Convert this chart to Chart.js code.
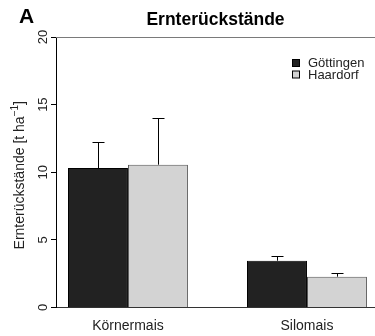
<!DOCTYPE html>
<html>
<head>
<meta charset="utf-8">
<script src="https://cdn.jsdelivr.net/npm/chart.js@4.4.1/dist/chart.umd.min.js"></script>
<style>
  body { margin: 0; background: #fff; }
  #wrap { width: 375px; height: 336px; }
</style>
</head>
<body>
<div id="wrap"><canvas id="residue-chart" width="375" height="336"></canvas></div>
<script>
// Ernterückstände [t/ha], Mittelwert + Standardabweichung
var categories = ['Körnermais', 'Silomais'];
var sites = ['Göttingen', 'Haardorf'];
var goettingen = [10.31, 3.46];
var haardorf = [10.56, 2.28];
var goettingenSd = [1.93, 0.37];
var haardorfSd = [3.48, 0.29];
var yTicks = [0, 5, 10, 15, 20];

var panelLetter = 'A';
var titleText = 'Ernterückstände';
var yTitle = 'Ernterückstände [t ha';
var yTitleSup = '\u22121';

var fontFamily = '"Liberation Sans", Arial, sans-serif';
var fills = ['#222222', '#d3d3d3'];
var borders = ['#000000', '#555555'];

function points(values) {
  return values.map(function (v, i) { return { x: i + 1, y: v }; });
}

// upward error bars like in the R plot
var errorBars = {
  id: 'errorBars',
  afterDatasetsDraw: function (chart) {
    var ctx = chart.ctx;
    var yScale = chart.scales.y;
    ctx.save();
    ctx.strokeStyle = '#000';
    ctx.lineWidth = 1;
    chart.data.datasets.forEach(function (ds, d) {
      chart.getDatasetMeta(d).data.forEach(function (bar, i) {
        var top = Math.round(yScale.getPixelForValue(ds.data[i].y + ds.sd[i])) + 0.5;
        var x = Math.round(bar.x) + 0.5;
        ctx.beginPath();
        ctx.moveTo(x, bar.y);
        ctx.lineTo(x, top);
        ctx.moveTo(x - 6, top);
        ctx.lineTo(x + 6, top);
        ctx.stroke();
      });
    });
    ctx.restore();
  }
};

// title, panel letter, rotated y labels, legend, top line
var decorations = {
  id: 'decorations',
  afterDraw: function (chart) {
    var ctx = chart.ctx;
    var area = chart.chartArea;
    var yScale = chart.scales.y;
    ctx.save();

    // top frame line
    ctx.strokeStyle = '#7a7a7a';
    ctx.lineWidth = 1;
    ctx.beginPath();
    ctx.moveTo(area.left, Math.round(area.top) + 0.5);
    ctx.lineTo(area.right, Math.round(area.top) + 0.5);
    ctx.stroke();

    ctx.fillStyle = '#000';
    ctx.font = 'bold 21px ' + fontFamily;
    ctx.textAlign = 'left';
    ctx.textBaseline = 'alphabetic';
    ctx.fillText(panelLetter, 19, 23);

    ctx.font = 'bold 17.5px ' + fontFamily;
    ctx.textAlign = 'center';
    ctx.fillText(titleText, (area.left + area.right) / 2, 25);

    // rotated tick labels
    ctx.font = '13px ' + fontFamily;
    ctx.fillStyle = '#222';
    yScale.ticks.forEach(function (t) {
      var py = yScale.getPixelForValue(t.value);
      ctx.save();
      ctx.translate(46.5, py);
      ctx.rotate(-Math.PI / 2);
      ctx.textAlign = 'center';
      ctx.textBaseline = 'alphabetic';
      ctx.fillText(String(t.value), 0, 0);
      ctx.restore();
    });

    // y axis title with superscript
    ctx.save();
    ctx.translate(24, (area.top + area.bottom) / 2 + 3);
    ctx.rotate(-Math.PI / 2);
    ctx.font = '14px ' + fontFamily;
    var w1 = ctx.measureText(yTitle).width;
    var w3 = ctx.measureText(']').width;
    ctx.font = '10px ' + fontFamily;
    var w2 = ctx.measureText(yTitleSup).width;
    var x0 = -(w1 + w2 + w3) / 2;
    ctx.textAlign = 'left';
    ctx.font = '14px ' + fontFamily;
    ctx.fillText(yTitle, x0, 0);
    ctx.font = '10px ' + fontFamily;
    ctx.fillText(yTitleSup, x0 + w1, -6);
    ctx.font = '14px ' + fontFamily;
    ctx.fillText(']', x0 + w1 + w2, 0);
    ctx.restore();

    // legend
    var lx = area.right - 83;
    var ly = area.top + 22;
    ctx.font = '13px ' + fontFamily;
    ctx.textAlign = 'left';
    ctx.textBaseline = 'middle';
    chart.data.datasets.forEach(function (ds, d) {
      var y = ly + d * 11.5;
      ctx.fillStyle = fills[d];
      ctx.fillRect(lx + 0.5, y + 0.5, 7, 7);
      ctx.strokeStyle = '#000';
      ctx.strokeRect(lx + 0.5, y + 0.5, 7, 7);
      ctx.fillStyle = '#222';
      ctx.fillText(ds.label, lx + 16, y + 4.5);
    });

    ctx.restore();
  }
};

var ctx = document.getElementById('residue-chart').getContext('2d');
var myChart = new Chart(ctx, {
  type: 'bar',
  data: {
    datasets: [{
      label: sites[0],
      data: points(goettingen),
      sd: goettingenSd,
      backgroundColor: fills[0],
      borderColor: borders[0],
      borderWidth: 1
    }, {
      label: sites[1],
      data: points(haardorf),
      sd: haardorfSd,
      backgroundColor: fills[1],
      borderColor: borders[1],
      borderWidth: 1
    }]
  },
  options: {
    responsive: false,
    animation: false,
    layout: { padding: { top: 37, left: 0, right: 0, bottom: 0 } },
    datasets: {
      bar: { categoryPercentage: 0.67, barPercentage: 1 }
    },
    scales: {
      x: {
        type: 'linear',
        offset: false,
        min: 0.598,
        max: 2.38,
        afterFit: function (scale) { scale.height = 28.5; },
        afterBuildTicks: function (scale) {
          scale.ticks = categories.map(function (c, i) { return { value: i + 1 }; });
        },
        grid: { display: false, offset: false },
        border: { display: true, color: '#333', width: 1 },
        ticks: {
          padding: 2,
          color: '#222',
          font: { family: fontFamily, size: 14 },
          callback: function (value) { return categories[value - 1]; }
        }
      },
      y: {
        min: 0,
        max: 20,
        afterFit: function (scale) { scale.width = 56; },
        afterBuildTicks: function (scale) {
          scale.ticks = yTicks.map(function (v) { return { value: v }; });
        },
        grid: { drawOnChartArea: false, drawTicks: true, tickLength: 5, color: '#000' },
        border: { display: true, color: '#000', width: 1 },
        ticks: { display: false }
      }
    },
    plugins: {
      legend: { display: false },
      tooltip: { enabled: false }
    }
  },
  plugins: [errorBars, decorations]
});
</script>
</body>
</html>
